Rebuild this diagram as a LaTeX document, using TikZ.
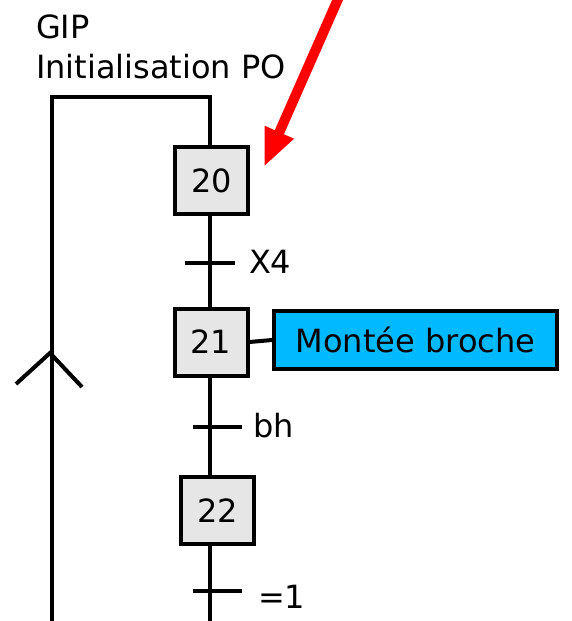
\documentclass[tikz,border=0pt]{standalone}
\usepackage{fontspec}
\setmainfont{DejaVu Sans}
\usetikzlibrary{arrows.meta}
\definecolor{stepgray}{HTML}{E6E6E6}
\definecolor{actblue}{HTML}{00B9FF}
\begin{document}
\begin{tikzpicture}[x=1pt,y=-1pt,line width=4pt,
  lbl/.style={font=\fontsize{32}{38}\selectfont, inner sep=0pt},
  stepbox/.style={draw=black, fill=stepgray, minimum width=73pt, minimum height=67pt, inner sep=0pt, lbl},
  actbox/.style={draw=black, fill=actblue, minimum width=283pt, minimum height=58pt, inner sep=0pt, lbl},
  bar/.style={draw=black, line width=4.5pt},
  pointer/.style={draw=red, line width=10pt, -{Triangle[length=38pt,width=29pt]}}]
\useasboundingbox (0,0) rectangle (571,621);
% labels
\node[lbl, anchor=base west] (gip) at (34,38) {GIP};
\node[lbl, anchor=base west] (init) at (34,78) {Initialisation PO};
% coordinates
\coordinate (top) at (210,97);
\coordinate (tl) at (52,97);
\coordinate (bl) at (52,626);
\coordinate (bot) at (210,626);
% steps
\node[stepbox] (s20) at (211.5,180.5) {20};
\node[stepbox] (s21) at (211,342) {21};
\node[stepbox] (s22) at (217.5,510.5) {22};
\node[actbox] (a21) at (415.5,340) {Montée broche};
% links
\draw[line join=miter] (bl) -- (tl) -- (top) -- (top |- s20.north);
\draw (s20.south -| top) -- (s21.north -| top);
\draw (s21.south -| top) -- (s22.north -| top);
\draw (s22.south -| top) -- (bot);
\draw (s21.east) -- (a21.west);
% transitions
\coordinate (x4l) at (185,263); \coordinate (x4r) at (235,263);
\coordinate (bhl) at (193,427); \coordinate (bhr) at (242,427);
\coordinate (e1l) at (193,591); \coordinate (e1r) at (242,591);
\draw[bar] (x4l) -- (x4r);
\draw[bar] (bhl) -- (bhr);
\draw[bar] (e1l) -- (e1r);
\node[lbl, anchor=base west] (tx4) at (247,273) {X4};
\node[lbl, anchor=base west] (tbh) at (251,437) {bh};
\node[lbl, anchor=base west] (te1) at (256,608) {=1};
% chevron on return line
\coordinate (chA) at (16,384);
\coordinate (chB) at (50,353);
\coordinate (chC) at (82,387);
\draw[line join=miter] (chA) -- (chB) -- (chC);
% red pointer
\coordinate (rs) at (342,-10);
\coordinate (rt) at (264,167);
\draw[pointer] (rs) -- (rt);
\end{tikzpicture}
\end{document}
